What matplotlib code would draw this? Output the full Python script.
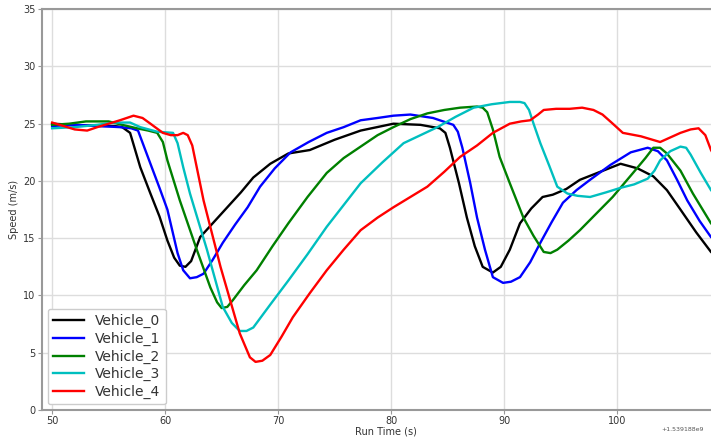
import matplotlib
matplotlib.use("Agg")
import matplotlib.pyplot as plt

# speed traces (run time in s, speed in m/s)
t0 = [50, 52, 54, 55.5, 56.2, 56.9, 57.8, 58.7, 59.5, 60.2, 60.8, 61.3, 61.8, 62.3, 63.1, 64.3, 65.5, 66.7,
      67.8, 69.3, 70.9, 72.8, 75, 77.3, 80.2, 82.6, 84.3, 84.8, 85.2, 86.0, 86.7, 87.4, 88.1, 89.0, 89.7, 90.5,
      91.4, 92.4, 93.4, 94.3, 95.5, 96.7, 98.5, 100.3, 101.8, 103.2, 104.4, 105.6, 107, 108.3, 109]
s0 = [25.0, 24.9, 24.8, 24.8, 24.7, 24.2, 21.2, 18.9, 16.9, 14.8, 13.3, 12.6, 12.5, 13.0, 15.1, 16.4, 17.7, 19.0,
      20.3, 21.5, 22.4, 22.7, 23.6, 24.4, 25.0, 24.9, 24.6, 24.2, 22.9, 19.8, 16.8, 14.3, 12.5, 12.0, 12.5, 14.0,
      16.3, 17.6, 18.6, 18.8, 19.3, 20.1, 20.8, 21.5, 21.1, 20.4, 19.2, 17.5, 15.5, 13.8, 13.2]

t1 = [50, 52, 54, 56, 57, 57.6, 58.7, 59.5, 60.2, 61.1, 61.6, 62.2, 62.8, 63.4, 64.2, 65.1, 66.2, 67.3, 68.4,
      69.7, 71.1, 72.7, 74.3, 75.8, 77.3, 78.8, 80.2, 81.7, 83.7, 85.5, 85.9, 86.3, 87.0, 87.6, 88.3, 89.0, 89.9,
      90.6, 91.4, 92.3, 93.2, 94.2, 95.2, 96.4, 97.6, 99.4, 101.2, 102.7, 103.6, 104.4, 105.3, 106.2, 107.3,
      108.3, 109]
s1 = [24.8, 24.9, 24.8, 24.7, 24.6, 24.4, 21.5, 19.4, 17.5, 13.7, 12.2, 11.5, 11.6, 11.9, 13.1, 14.6, 16.2, 17.7,
      19.5, 21.1, 22.5, 23.4, 24.2, 24.7, 25.3, 25.5, 25.7, 25.8, 25.5, 24.9, 24.3, 22.9, 19.8, 16.8, 14.0, 11.6,
      11.1, 11.2, 11.6, 12.9, 14.6, 16.4, 18.1, 19.2, 20.1, 21.4, 22.5, 22.9, 22.6, 21.8, 20.1, 18.3, 16.5,
      15.1, 14.6]

t2 = [50, 51.5, 53, 55, 56.2, 57.5, 58.5, 59.3, 59.8, 60.2, 61.3, 62.8, 64.0, 64.6, 65.0, 65.5, 66.0, 67.0, 68.1,
      69.5, 70.9, 72.6, 74.3, 75.8, 77.3, 78.8, 80.2, 81.7, 83.2, 84.7, 86.1, 87.6, 88.1, 88.5, 89.0, 89.6, 90.5,
      91.7, 92.6, 93.5, 94.1, 94.7, 95.7, 96.7, 98.2, 99.6, 101.4, 102.5, 103.2, 103.8, 104.4, 105.6, 106.7,
      108.3, 109]
s2 = [24.9, 25.0, 25.2, 25.2, 24.9, 24.6, 24.4, 24.2, 23.4, 21.8, 18.3, 14.0, 10.7, 9.4, 8.9, 9.0, 9.6, 10.9, 12.2,
      14.3, 16.3, 18.6, 20.7, 22.0, 23.0, 24.0, 24.7, 25.4, 25.9, 26.2, 26.4, 26.5, 26.4, 26.0, 24.5, 22.1, 19.8,
      16.8, 15.2, 13.8, 13.7, 14.0, 14.8, 15.7, 17.2, 18.6, 20.7, 22.0, 22.9, 22.9, 22.4, 20.9, 18.9,
      16.3, 15.6]

t3 = [50, 52, 54, 55.5, 56.9, 57.8, 59.3, 60.7, 61.1, 61.6, 62.2, 63.7, 65.1, 65.9, 66.6, 67.2, 67.8, 69.3, 70.9,
      72.6, 74.3, 75.8, 77.3, 79.2, 81.1, 82.6, 84.1, 85.7, 87.3, 88.9, 90.5, 91.4, 91.8, 92.2, 92.6, 93.2, 94.0,
      94.7, 95.6, 96.5, 97.6, 99.0, 100.3, 101.5, 102.7, 103.3, 103.8, 104.7, 105.6, 106.1, 106.5, 107.4,
      108.3, 109]
s3 = [24.6, 24.7, 24.9, 25.1, 25.1, 24.7, 24.3, 24.2, 23.3, 21.2, 18.9, 14.0, 9.0, 7.6, 6.9, 6.9, 7.2, 9.2, 11.3,
      13.6, 16.0, 17.9, 19.8, 21.6, 23.3, 24.0, 24.7, 25.6, 26.4, 26.7, 26.9, 26.9, 26.8, 26.2, 25.0, 23.3, 21.3,
      19.5, 18.9, 18.7, 18.6, 19.0, 19.4, 19.7, 20.2, 20.9, 21.8, 22.6, 23.0, 22.9, 22.3, 20.7,
      19.2, 18.4]

t4 = [50, 51, 52, 53.1, 54, 55, 56, 57.2, 58, 58.7, 59.8, 60.5, 61.1, 61.6, 62.0, 62.4, 63.4, 64.9, 66.6, 67.5,
      68.0, 68.6, 69.3, 70.3, 71.3, 72.8, 74.3, 75.8, 77.3, 78.8, 80.2, 81.7, 83.2, 84.7, 86.1, 87.6, 89.0, 90.5,
      91.5, 92.3, 93.0, 93.5, 94.6, 95.8, 96.9, 97.9, 98.7, 99.5, 100.5, 102.1, 103.8, 104.7, 105.6, 106.5,
      107.2, 107.8, 108.3, 109]
s4 = [25.1, 24.8, 24.5, 24.4, 24.7, 25.0, 25.3, 25.7, 25.5, 25.0, 24.2, 24.0, 24.0, 24.2, 24.0, 23.1, 18.3, 12.5,
      6.7, 4.6, 4.2, 4.3, 4.8, 6.4, 8.1, 10.2, 12.2, 14.0, 15.7, 16.8, 17.7, 18.6, 19.5, 20.8, 22.1, 23.1, 24.2,
      25.0, 25.2, 25.3, 25.8, 26.2, 26.3, 26.3, 26.4, 26.2, 25.8, 25.1, 24.2, 23.9, 23.4, 23.8, 24.2, 24.5,
      24.6, 24.0, 22.7, 21.5]

names = ["Vehicle_0", "Vehicle_1", "Vehicle_2", "Vehicle_3", "Vehicle_4"]
colors = ["k", "b", "g", "c", "r"]
xticks = [50, 60, 70, 80, 90, 100]
yticks = [0, 5, 10, 15, 20, 25, 30, 35]

fig = plt.figure(figsize=(7.11, 4.38), dpi=100)
# the reference is cropped on the right, so the axes run past the figure edge
ax = fig.add_axes([0.059, 0.064, 0.968, 0.915])

for t, s, name, c in zip([t0, t1, t2, t3, t4], [s0, s1, s2, s3, s4], names, colors):
    ax.plot(t, s, color=c, lw=1.7, label=name)

ax.set_xlim(49.1, 110)
ax.set_ylim(0, 35)
ax.set_xticks(xticks)
ax.set_yticks(yticks)
ax.grid(True, color="#dddddd", lw=1)
ax.set_axisbelow(True)
for sp in ax.spines.values():
    sp.set_color("#999999")
    sp.set_linewidth(1.5)
ax.tick_params(labelsize=7, colors="#999999", labelcolor="#333333", length=3, pad=1.5)
ax.set_xlabel("Run Time (s)", fontsize=7, color="#333333", labelpad=0)
ax.set_ylabel("Speed (m/s)", fontsize=7, color="#333333", labelpad=3)

leg = ax.legend(loc="lower left", fontsize=10, handlelength=2.2, labelspacing=0.25,
                borderaxespad=0.4, framealpha=1, edgecolor="#cccccc")
for txt in leg.get_texts():
    txt.set_color("#333333")

fig.text(0.93, 0.015, "+1.539188e9", fontsize=4.5, color="#555555")

fig.savefig("out.png", dpi=100)
